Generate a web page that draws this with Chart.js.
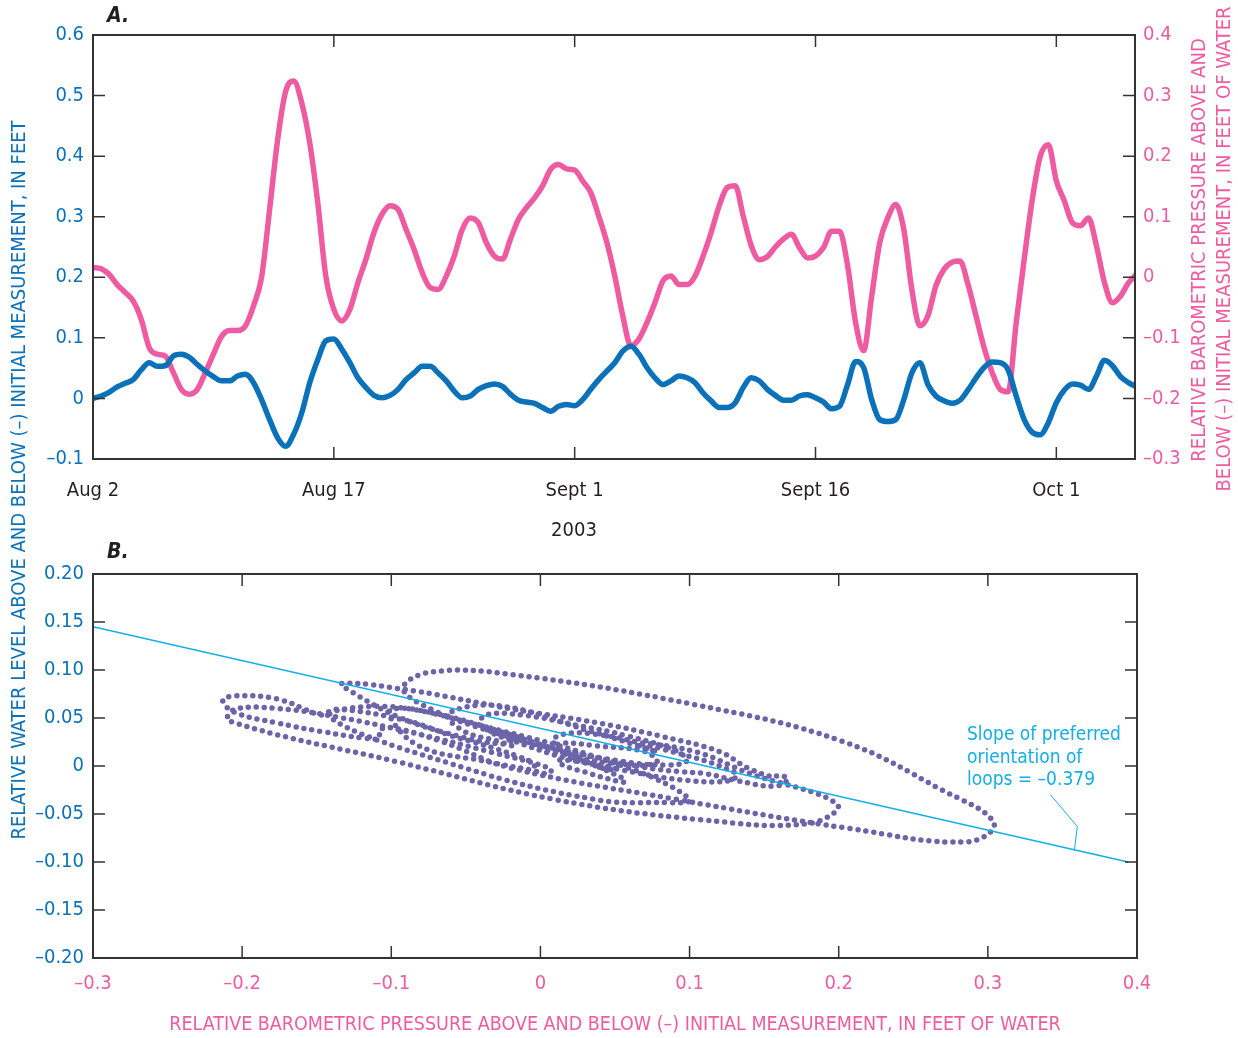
<!DOCTYPE html>
<html>
<head>
<meta charset="utf-8">
<title>Water level and barometric pressure, Aug-Oct 2003</title>
<script src="https://cdn.jsdelivr.net/npm/chart.js@4.4.1/dist/chart.umd.min.js"></script>
<style>
  html, body { margin: 0; padding: 0; background: #fff; }
  #wrap { position: relative; width: 1238px; height: 1038px; }
  #wrap canvas { position: absolute; left: 0; top: 0; width: 1238px; height: 1038px; }
</style>
</head>
<body>
<div id="wrap">
  <canvas id="chartA" width="1238" height="1038"></canvas>
  <canvas id="chartB" width="1238" height="1038"></canvas>
</div>
<script>
// Sampling of the hydrograph: every half day, starting Aug 2, 2003
const sampleStartDay = 0;
const sampleStepDay = 0.5;

// Relative water level, feet (left axis of A, y of B)
const waterLevel = [
  0.000, 0.004, 0.010, 0.019, 0.025, 0.031, 0.047, 0.059, 0.053, 0.054,
  0.070, 0.073, 0.068, 0.056, 0.045, 0.036, 0.029, 0.029, 0.037, 0.040,
  0.026, -0.002, -0.035, -0.065, -0.079, -0.059, -0.024, 0.026, 0.064, 0.095,
  0.098, 0.081, 0.059, 0.034, 0.018, 0.005, 0.001, 0.005, 0.015, 0.031,
  0.042, 0.053, 0.053, 0.042, 0.029, 0.012, 0.001, 0.004, 0.015, 0.021,
  0.024, 0.020, 0.007, -0.003, -0.006, -0.008, -0.015, -0.021, -0.013, -0.010,
  -0.012, -0.002, 0.015, 0.031, 0.045, 0.059, 0.078, 0.086, 0.073, 0.051,
  0.034, 0.023, 0.029, 0.037, 0.034, 0.026, 0.009, -0.004, -0.015, -0.015,
  -0.007, 0.018, 0.034, 0.029, 0.015, 0.005, -0.003, -0.003, 0.004, 0.006,
  0.001, -0.006, -0.017, -0.013, 0.023, 0.061, 0.051, -0.002, -0.035, -0.038,
  -0.035, -0.002, 0.042, 0.059, 0.023, 0.004, -0.004, -0.008, -0.003, 0.014,
  0.034, 0.051, 0.060, 0.059, 0.047, 0.004, -0.035, -0.056, -0.060, -0.040,
  -0.007, 0.014, 0.024, 0.022, 0.015, 0.037, 0.063, 0.054, 0.036, 0.026,
  0.019
];

// Relative barometric pressure, feet of water (right axis of A, x of B)
const baroPressure = [
  0.016, 0.014, 0.005, -0.012, -0.025, -0.039, -0.069, -0.116, -0.127, -0.130,
  -0.157, -0.185, -0.193, -0.185, -0.157, -0.127, -0.098, -0.088, -0.088, -0.080,
  -0.047, 0.000, 0.112, 0.227, 0.307, 0.324, 0.288, 0.222, 0.123, 0.002,
  -0.053, -0.072, -0.053, -0.009, 0.030, 0.074, 0.104, 0.118, 0.112, 0.079,
  0.046, 0.008, -0.017, -0.020, 0.002, 0.035, 0.079, 0.098, 0.090, 0.057,
  0.035, 0.030, 0.063, 0.096, 0.115, 0.131, 0.151, 0.178, 0.186, 0.179,
  0.177, 0.159, 0.140, 0.101, 0.058, 0.002, -0.064, -0.113, -0.102, -0.075,
  -0.042, -0.006, 0.002, -0.012, -0.012, 0.002, 0.035, 0.074, 0.118, 0.148,
  0.151, 0.101, 0.052, 0.029, 0.034, 0.050, 0.063, 0.071, 0.049, 0.032,
  0.035, 0.049, 0.076, 0.076, 0.019, -0.075, -0.121, -0.031, 0.057, 0.098,
  0.120, 0.079, -0.020, -0.080, -0.064, -0.014, 0.013, 0.025, 0.027, -0.012,
  -0.064, -0.116, -0.157, -0.185, -0.189, -0.075, 0.030, 0.128, 0.200, 0.219,
  0.159, 0.126, 0.090, 0.085, 0.098, 0.052, -0.009, -0.042, -0.031, -0.009,
  0.005
];

// Panel B reads about 0.02 ft lower on the pressure axis than panel A's right axis
const pressureShiftB = -0.02;

// Axis ticks
const dateTickDays = [0, 15, 30, 45, 60];
const dateTickLabels = ['Aug 2', 'Aug 17', 'Sept 1', 'Sept 16', 'Oct 1'];
const levelTicksA = [-0.1, 0, 0.1, 0.2, 0.3, 0.4, 0.5, 0.6];
const pressureTicksA = [-0.3, -0.2, -0.1, 0, 0.1, 0.2, 0.3, 0.4];
const pressureTicksB = [-0.3, -0.2, -0.1, 0, 0.1, 0.2, 0.3, 0.4];
const levelTicksB = [-0.2, -0.15, -0.1, -0.05, 0, 0.05, 0.1, 0.15, 0.2];

// Preferred orientation of loops (panel B)
const fitLineX = [-0.3, 0.394];
const fitLineY = [0.145, -0.100];
const fitNote = ['Slope of preferred', 'orientation of', 'loops = \u20130.379'];

// Titles
const levelTitle = 'RELATIVE WATER LEVEL ABOVE AND BELOW (\u2013) INITIAL MEASUREMENT, IN FEET';
const pressureTitleA = ['RELATIVE BAROMETRIC PRESSURE ABOVE AND', 'BELOW (\u2013) INITIAL MEASUREMENT, IN FEET OF WATER'];
const pressureTitleB = 'RELATIVE BAROMETRIC PRESSURE ABOVE AND BELOW (\u2013) INITIAL MEASUREMENT, IN FEET OF WATER';
const yearLabel = '2003';

const FONT = "'Liberation Sans Narrow', 'DejaVu Sans Condensed', 'Arial Narrow', sans-serif";
const BLUE = '#0b72b9';
const PINK = '#ef5ba1';
const PURPLE = '#6b64a8';
const CYAN = '#13aee8';
const INK = '#333333';
const BLACK = '#231f20';

const days = waterLevel.map((_, i) => sampleStartDay + i * sampleStepDay);

function fmt(v, digits) {
    if (Math.abs(v) < 1e-9) return '0';
    return (v < 0 ? '\u2013' : '') + Math.abs(v).toFixed(digits);
}

function fixTicks(values) {
    return scale => { scale.ticks = values.map(v => ({ value: v })); };
}

function drawText(ctx, str, x, y, o) {
    ctx.save();
    ctx.translate(x, y);
    if (o.rot) ctx.rotate(o.rot);
    ctx.font = o.font || `20px ${FONT}`;
    ctx.fillStyle = o.color || BLACK;
    ctx.textAlign = o.align || 'center';
    ctx.textBaseline = 'middle';
    ctx.fillText(str, 0, 0);
    ctx.restore();
}

// Box round the plot and inward tick marks on all four sides
const frameTicks = {
    id: 'frameTicks',
    afterDatasetsDraw(chart, args, opts) {
        const { ctx, chartArea: a } = chart;
        const len = 12;
        ctx.save();
        ctx.strokeStyle = INK;
        ctx.lineWidth = 1.5;
        ctx.beginPath();
        const xs = chart.scales.x;
        xs.ticks.forEach(t => {
            const px = xs.getPixelForValue(t.value);
            if (px < a.left + 2 || px > a.right - 2) return;
            ctx.moveTo(px, a.bottom); ctx.lineTo(px, a.bottom - len);
            ctx.moveTo(px, a.top); ctx.lineTo(px, a.top + len);
        });
        const side = (id, x0, dir) => {
            const s = chart.scales[id];
            s.ticks.forEach(t => {
                const py = s.getPixelForValue(t.value);
                if (py < a.top + 2 || py > a.bottom - 2) return;
                ctx.moveTo(x0, py); ctx.lineTo(x0 + dir * len, py);
            });
        };
        side(opts.left, a.left, 1);
        side(opts.right, a.right, -1);
        ctx.stroke();
        ctx.lineWidth = 2;
        ctx.strokeRect(a.left, a.top, a.right - a.left, a.bottom - a.top);
        ctx.restore();
    }
};

const textA = {
    id: 'textA',
    afterDraw(chart) {
        const ctx = chart.ctx;
        drawText(ctx, 'A.', 107, 17, { font: `italic bold 21px ${FONT}`, align: 'left' });
        drawText(ctx, yearLabel, 574, 531, { font: `20px ${FONT}` });
        drawText(ctx, levelTitle, 20, 480, { rot: -Math.PI / 2, color: BLUE });
        drawText(ctx, pressureTitleA[0], 1200, 250, { rot: -Math.PI / 2, color: PINK });
        drawText(ctx, pressureTitleA[1], 1225, 249, { rot: -Math.PI / 2, color: PINK });
    }
};

const textB = {
    id: 'textB',
    afterDraw(chart) {
        const { ctx, scales: { x, y } } = chart;
        drawText(ctx, 'B.', 107, 553, { font: `italic bold 21px ${FONT}`, align: 'left' });
        drawText(ctx, pressureTitleB, 615, 1025, { color: PINK, font: `19.5px ${FONT}` });
        const tx = x.getPixelForValue(0.286);
        [0.032, 0.008, -0.0145].forEach((v, i) => {
            drawText(ctx, fitNote[i], tx, y.getPixelForValue(v), { color: CYAN, align: 'left', font: `19px ${FONT}` });
        });
        ctx.save();
        ctx.strokeStyle = CYAN;
        ctx.lineWidth = 1;
        ctx.beginPath();
        ctx.moveTo(x.getPixelForValue(0.342), y.getPixelForValue(-0.030));
        ctx.lineTo(x.getPixelForValue(0.360), y.getPixelForValue(-0.063));
        ctx.lineTo(x.getPixelForValue(0.358), y.getPixelForValue(-0.088));
        ctx.stroke();
        ctx.restore();
    }
};

const tickFont = { family: FONT, size: 20 };
const noGrid = { display: false, drawTicks: false };

// Panel A: hydrograph with two y axes
new Chart(document.getElementById('chartA'), {
    type: 'line',
    data: {
        datasets: [
            {
                label: 'Water level',
                data: days.map((d, i) => ({ x: d, y: waterLevel[i] })),
                yAxisID: 'y',
                borderColor: BLUE,
                borderWidth: 5.5,
                pointRadius: 0,
                cubicInterpolationMode: 'monotone',
                borderCapStyle: 'round',
                borderJoinStyle: 'round'
            },
            {
                label: 'Barometric pressure',
                data: days.map((d, i) => ({ x: d, y: baroPressure[i] })),
                yAxisID: 'y2',
                borderColor: PINK,
                borderWidth: 5.5,
                pointRadius: 0,
                cubicInterpolationMode: 'monotone',
                borderCapStyle: 'round',
                borderJoinStyle: 'round'
            }
        ]
    },
    options: {
        responsive: false,
        animation: false,
        events: [],
        layout: { padding: { top: 35, bottom: 518, left: 0, right: 0 } },
        plugins: {
            legend: { display: false },
            tooltip: { enabled: false },
            frameTicks: { left: 'y', right: 'y2' }
        },
        scales: {
            x: {
                type: 'linear', min: 0, max: 64.9,
                afterBuildTicks: fixTicks(dateTickDays),
                afterFit: s => { s.height = 61; },
                grid: noGrid, border: { display: false },
                ticks: {
                    padding: 20, color: BLACK, font: tickFont, maxRotation: 0, autoSkip: false,
                    callback: v => dateTickLabels[dateTickDays.indexOf(v)] || ''
                }
            },
            y: {
                position: 'left', min: -0.1, max: 0.6,
                afterBuildTicks: fixTicks(levelTicksA),
                afterFit: s => { s.width = 93; },
                grid: noGrid, border: { display: false },
                ticks: { padding: 9, color: BLUE, font: tickFont, callback: v => fmt(v, 1) }
            },
            y2: {
                position: 'right', min: -0.3, max: 0.4,
                afterBuildTicks: fixTicks(pressureTicksA),
                afterFit: s => { s.width = 103; },
                grid: noGrid, border: { display: false },
                ticks: { padding: 8, color: PINK, font: tickFont, callback: v => fmt(v, 1) }
            }
        }
    },
    plugins: [frameTicks, textA]
});

// Panel B: water level against barometric pressure
new Chart(document.getElementById('chartB'), {
    type: 'scatter',
    data: {
        datasets: [
            {
                label: 'Preferred orientation',
                data: fitLineX.map((v, i) => ({ x: v, y: fitLineY[i] })),
                showLine: true,
                borderColor: CYAN,
                borderWidth: 1.6,
                pointRadius: 0
            },
            {
                label: 'Hourly pairs',
                data: baroPressure.map((v, i) => ({ x: v + pressureShiftB, y: waterLevel[i] })),
                showLine: true,
                borderColor: PURPLE,
                borderWidth: 5.5,
                borderDash: [0, 8],
                borderCapStyle: 'round',
                tension: 0.4,
                pointRadius: 0
            }
        ]
    },
    options: {
        responsive: false,
        animation: false,
        events: [],
        layout: { padding: { top: 574, bottom: 0, left: 0, right: 101 } },
        plugins: {
            legend: { display: false },
            tooltip: { enabled: false },
            frameTicks: { left: 'y', right: 'y' }
        },
        scales: {
            x: {
                type: 'linear', min: -0.3, max: 0.4,
                afterBuildTicks: fixTicks(pressureTicksB),
                afterFit: s => { s.height = 80; },
                grid: noGrid, border: { display: false },
                ticks: { padding: 14, color: PINK, font: tickFont, maxRotation: 0, autoSkip: false, callback: v => fmt(v, 1) }
            },
            y: {
                position: 'left', min: -0.2, max: 0.2,
                afterBuildTicks: fixTicks(levelTicksB),
                afterFit: s => { s.width = 93; },
                grid: noGrid, border: { display: false },
                ticks: { padding: 9, color: BLUE, font: tickFont, callback: v => fmt(v, 2) }
            }
        }
    },
    plugins: [frameTicks, textB]
});
</script>
</body>
</html>
